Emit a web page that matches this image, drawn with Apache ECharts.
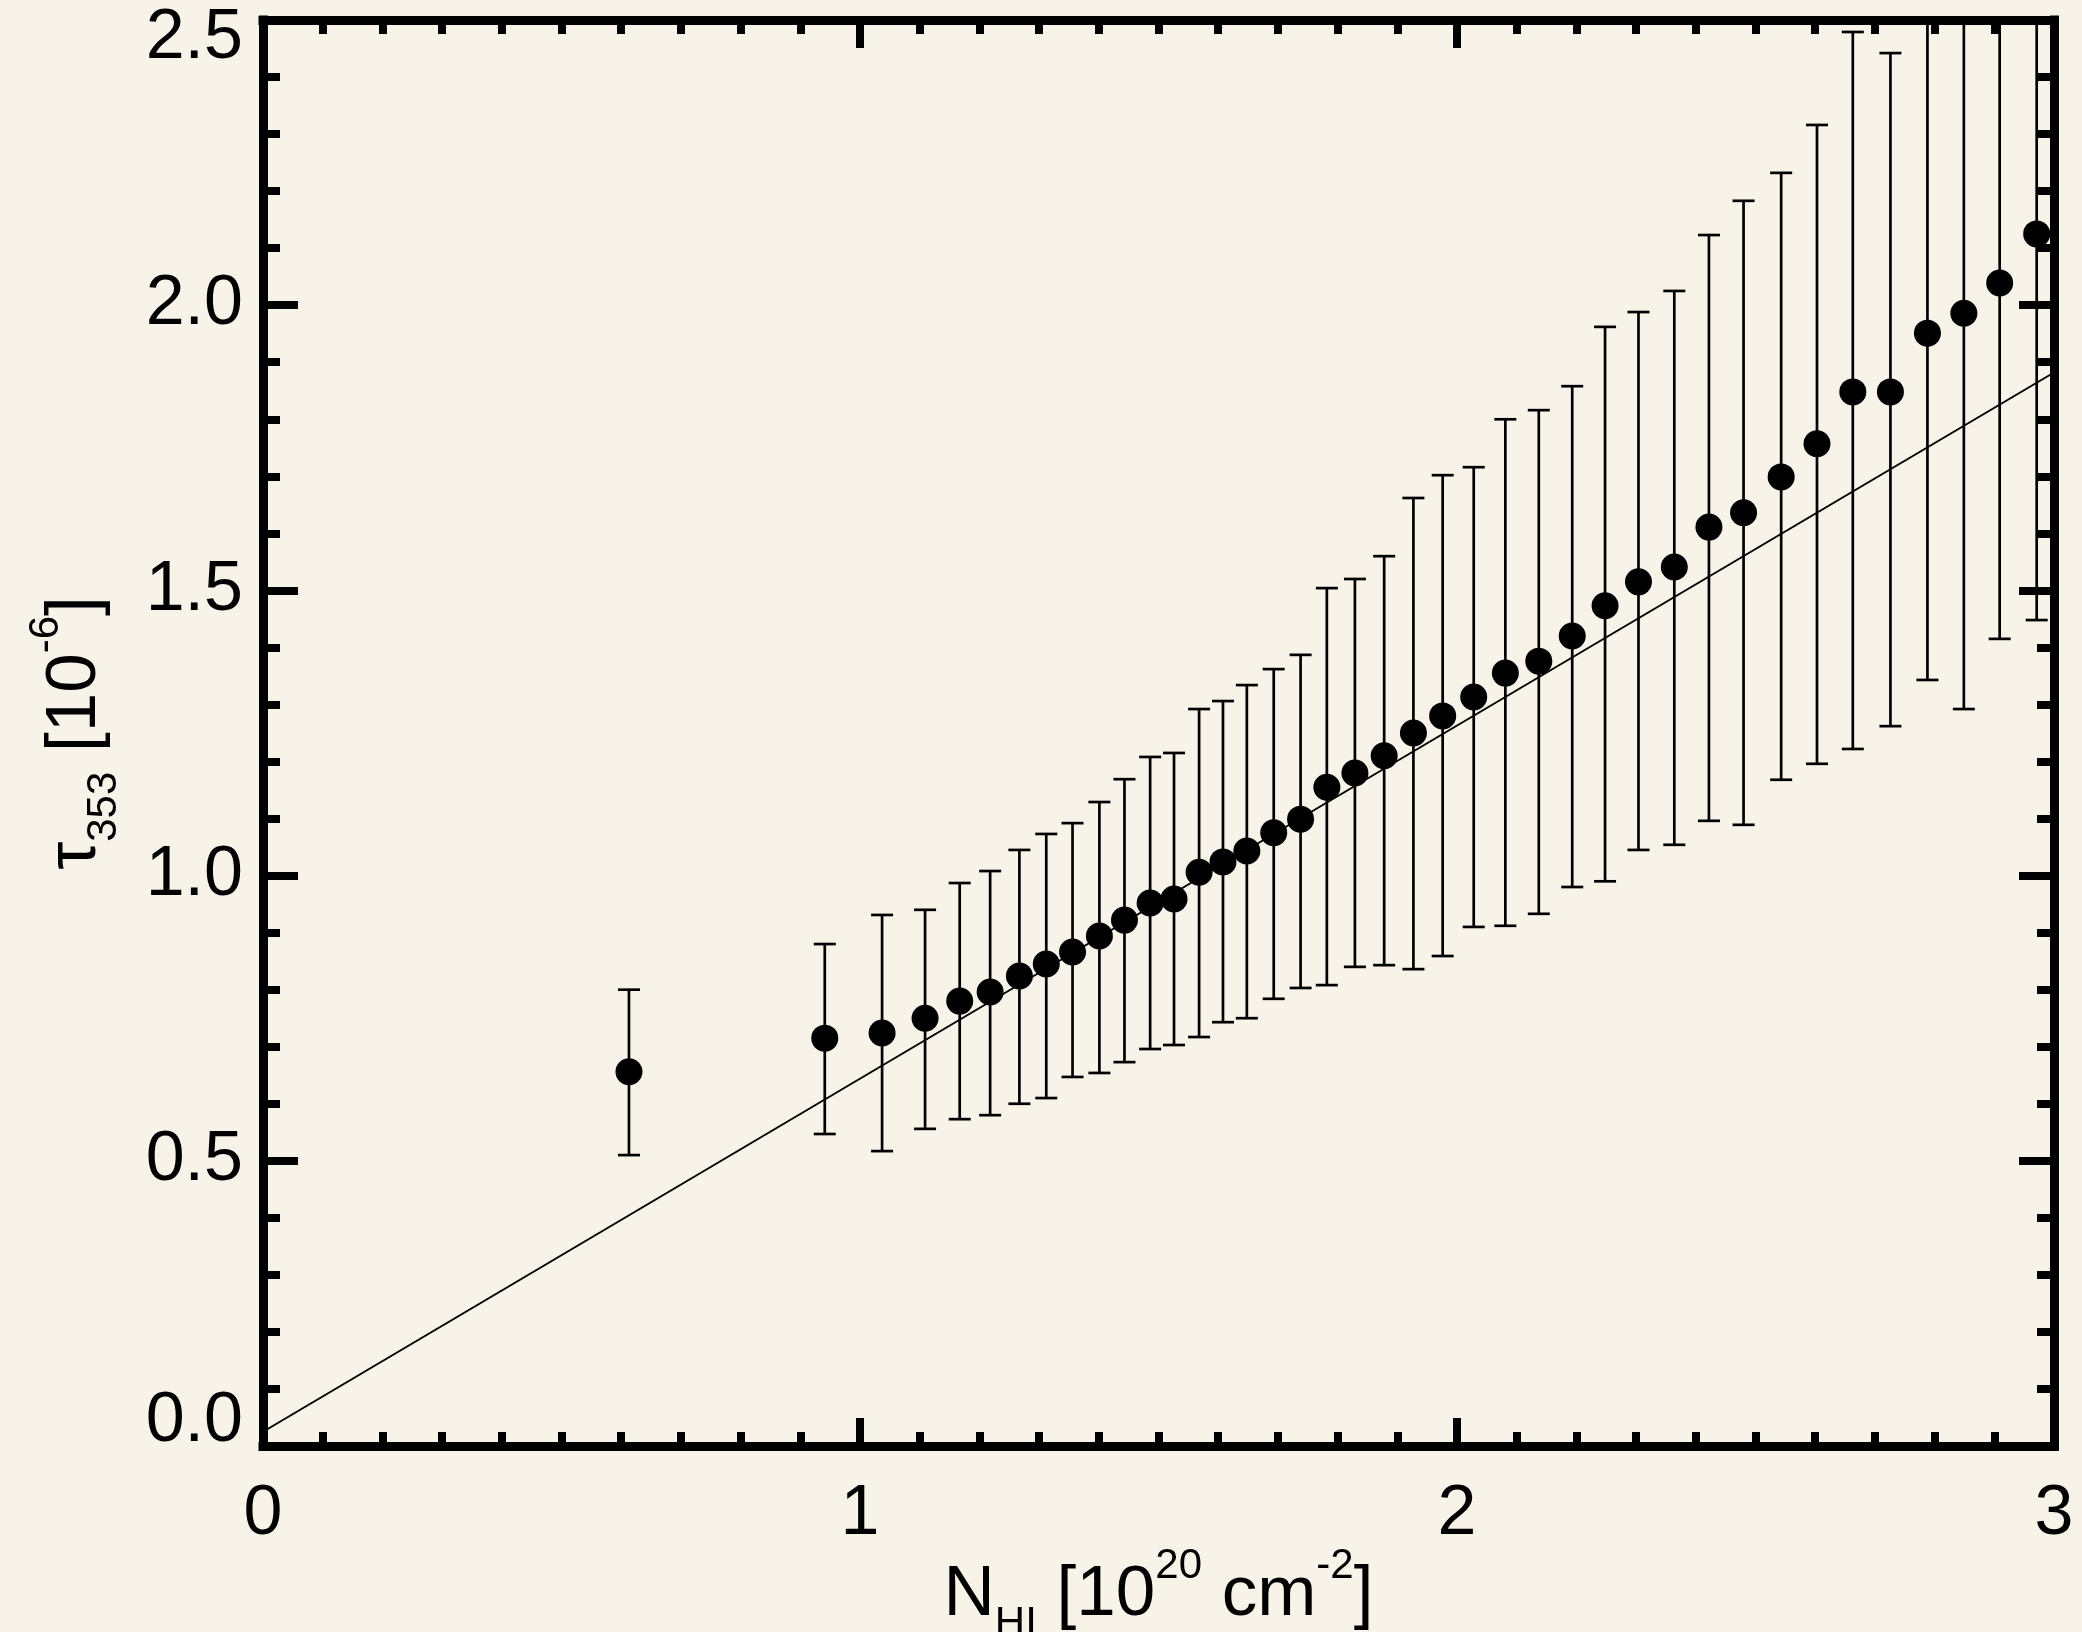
<!DOCTYPE html>
<html>
<head>
<meta charset="utf-8">
<script src="https://cdn.jsdelivr.net/npm/echarts@6/dist/echarts.min.js"></script>
<style>
  html, body { margin: 0; padding: 0; background: #f7f3e8; }
  #chart { width: 2082px; height: 1632px; }
</style>
</head>
<body>
<div id="chart"></div>
<script>
// ---- data ----
var nhi = [0.613, 0.941, 1.037, 1.109, 1.167, 1.218, 1.267, 1.312, 1.356, 1.401,
           1.443, 1.486, 1.526, 1.568, 1.608, 1.648, 1.693, 1.738, 1.782, 1.829,
           1.878, 1.927, 1.976, 2.028, 2.081, 2.137, 2.193, 2.248, 2.304, 2.364,
           2.422, 2.480, 2.543, 2.603, 2.663, 2.726, 2.788, 2.849, 2.909, 2.971];
var tau = [0.656, 0.715, 0.724, 0.750, 0.780, 0.796, 0.824, 0.845, 0.866, 0.894,
           0.922, 0.952, 0.959, 1.006, 1.024, 1.043, 1.075, 1.099, 1.155, 1.180,
           1.210, 1.250, 1.280, 1.313, 1.355, 1.376, 1.420, 1.473, 1.515, 1.541,
           1.611, 1.636, 1.699, 1.757, 1.848, 1.848, 1.951, 1.986, 2.039, 2.125];
var errLow = [0.510, 0.547, 0.517, 0.556, 0.573, 0.580, 0.600, 0.610, 0.647, 0.654,
              0.673, 0.696, 0.703, 0.717, 0.743, 0.750, 0.784, 0.803, 0.808, 0.840,
              0.843, 0.836, 0.859, 0.910, 0.912, 0.933, 0.980, 0.990, 1.045, 1.054,
              1.096, 1.089, 1.168, 1.196, 1.222, 1.262, 1.343, 1.292, 1.415, 1.448];
var errHigh = [0.800, 0.880, 0.931, 0.940, 0.987, 1.008, 1.045, 1.073, 1.092, 1.129,
               1.169, 1.208, 1.215, 1.292, 1.306, 1.334, 1.362, 1.387, 1.504, 1.520,
               1.560, 1.662, 1.702, 1.716, 1.800, 1.816, 1.858, 1.962, 1.988, 2.025,
               2.123, 2.183, 2.232, 2.316, 2.479, 2.442, 2.560, 2.680, 2.660, 2.800];
var fitX = [0, 3];
var fitY = [0.025, 1.882];
var xTickLabels = ['0', '1', '2', '3'];
var yTickLabels = ['0.0', '0.5', '1.0', '1.5', '2.0', '2.5'];

// ---- build series data ----
var points = nhi.map(function (x, i) { return [x, tau[i]]; });
var bars = nhi.map(function (x, i) { return [x, errLow[i], errHigh[i]]; });
var fitLine = fitX.map(function (x, i) { return [x, fitY[i]]; });

var FONT = "'Liberation Sans', Arial, Helvetica, sans-serif";
var INK = '#000';

function xFmt(v) { return xTickLabels[Math.round(v)] || ''; }
function yFmt(v) {
  var idx = Math.round(v / 0.5);
  var s = yTickLabels[idx] || '';
  if (idx === 0) return '{lo|' + s + '}';
  if (idx === yTickLabels.length - 1) return '{hi|' + s + '}';
  return '{n|' + s + '}';
}

function nameRich(subLH) {
  return {
    n: { fontSize: 71, lineHeight: 100, fontFamily: FONT, color: INK },
    sub: { fontSize: 42, lineHeight: subLH, verticalAlign: 'bottom', fontFamily: FONT, color: INK },
    sup: { fontSize: 42, lineHeight: 60, verticalAlign: 'top', fontFamily: FONT, color: INK }
  };
}

function xAxisCfg(pos, showLabels, showName) {
  return {
    type: 'value', position: pos, min: 0, max: 3, interval: 1,
    axisLine: { show: true, onZero: false, lineStyle: { color: INK, width: 9, cap: 'square' } },
    axisTick: { show: true, inside: true, length: 28, lineStyle: { color: INK, width: 8 } },
    minorTick: { show: true, splitNumber: 10, length: 14, lineStyle: { color: INK, width: 8 } },
    splitLine: { show: false },
    axisLabel: { show: showLabels, formatter: xFmt, color: INK, fontFamily: FONT, fontSize: 70, margin: 34 },
    name: showName ? '{n|N}{sub|HI}{n| [10}{sup|20}{n| cm}{sup|-2}{n|]}' : '',
    nameLocation: 'middle', nameGap: 99, nameMoveOverlap: false,
    nameTextStyle: { color: INK, fontFamily: FONT, rich: nameRich(74) }
  };
}
function yAxisCfg(pos, showLabels, showName) {
  return {
    type: 'value', position: pos, min: 0, max: 2.5, interval: 0.5,
    axisLine: { show: true, onZero: false, lineStyle: { color: INK, width: 9, cap: 'square' } },
    axisTick: { show: true, inside: true, length: 35, lineStyle: { color: INK, width: 8 } },
    minorTick: { show: true, splitNumber: 5, length: 17, lineStyle: { color: INK, width: 8 } },
    splitLine: { show: false },
    axisLabel: {
      show: showLabels, formatter: yFmt, color: INK, fontFamily: FONT, fontSize: 70, margin: 20,
      rich: {
        n: { fontSize: 70, fontFamily: FONT, color: INK },
        lo: { fontSize: 70, fontFamily: FONT, color: INK, padding: [0, 0, 48, 0] },
        hi: { fontSize: 70, fontFamily: FONT, color: INK, padding: [38, 0, 0, 0] }
      }
    },
    name: showName ? '{n|\u03c4}{sub|353}{n| [10}{sup|-6}{n|]}' : '',
    nameLocation: 'middle', nameGap: 138, nameRotate: 90, nameMoveOverlap: false,
    nameTextStyle: { color: INK, fontFamily: FONT, rich: nameRich(64) }
  };
}

var chart = echarts.init(document.getElementById('chart'), null, { renderer: 'canvas' });
chart.setOption({
  backgroundColor: '#f7f3e8',
  animation: false,
  grid: { left: 263, right: 28, top: 20, bottom: 186, containLabel: false, outerBoundsMode: 'none' },
  xAxis: [xAxisCfg('bottom', true, true), xAxisCfg('top', false, false)],
  yAxis: [yAxisCfg('left', true, true), yAxisCfg('right', false, false)],
  series: [
    {
      type: 'custom', name: 'errors', data: bars, clip: true, z: 2,
      encode: { x: 0, y: [1, 2] },
      renderItem: function (params, api) {
        var x = api.value(0), lo = api.value(1), hi = api.value(2);
        var pLo = api.coord([x, lo]);
        var pHi = api.coord([x, hi]);
        var top = params.coordSys.y;
        var half = 11;
        var yTop = Math.max(pHi[1], top);
        var st = { stroke: INK, lineWidth: 2.7 };
        var children = [
          { type: 'line', shape: { x1: pLo[0], y1: pLo[1], x2: pLo[0], y2: yTop }, style: st },
          { type: 'line', shape: { x1: pLo[0] - half, y1: pLo[1], x2: pLo[0] + half, y2: pLo[1] }, style: st }
        ];
        if (pHi[1] >= top) {
          children.push({ type: 'line', shape: { x1: pHi[0] - half, y1: pHi[1], x2: pHi[0] + half, y2: pHi[1] }, style: st });
        }
        return { type: 'group', children: children };
      }
    },
    {
      type: 'line', name: 'fit', data: fitLine, showSymbol: false, symbol: 'none', z: 3,
      lineStyle: { color: INK, width: 2 }
    },
    {
      type: 'scatter', name: 'tau', data: points, symbol: 'circle', symbolSize: 27, z: 4,
      itemStyle: { color: INK, opacity: 1 }
    }
  ]
});
</script>
</body>
</html>
